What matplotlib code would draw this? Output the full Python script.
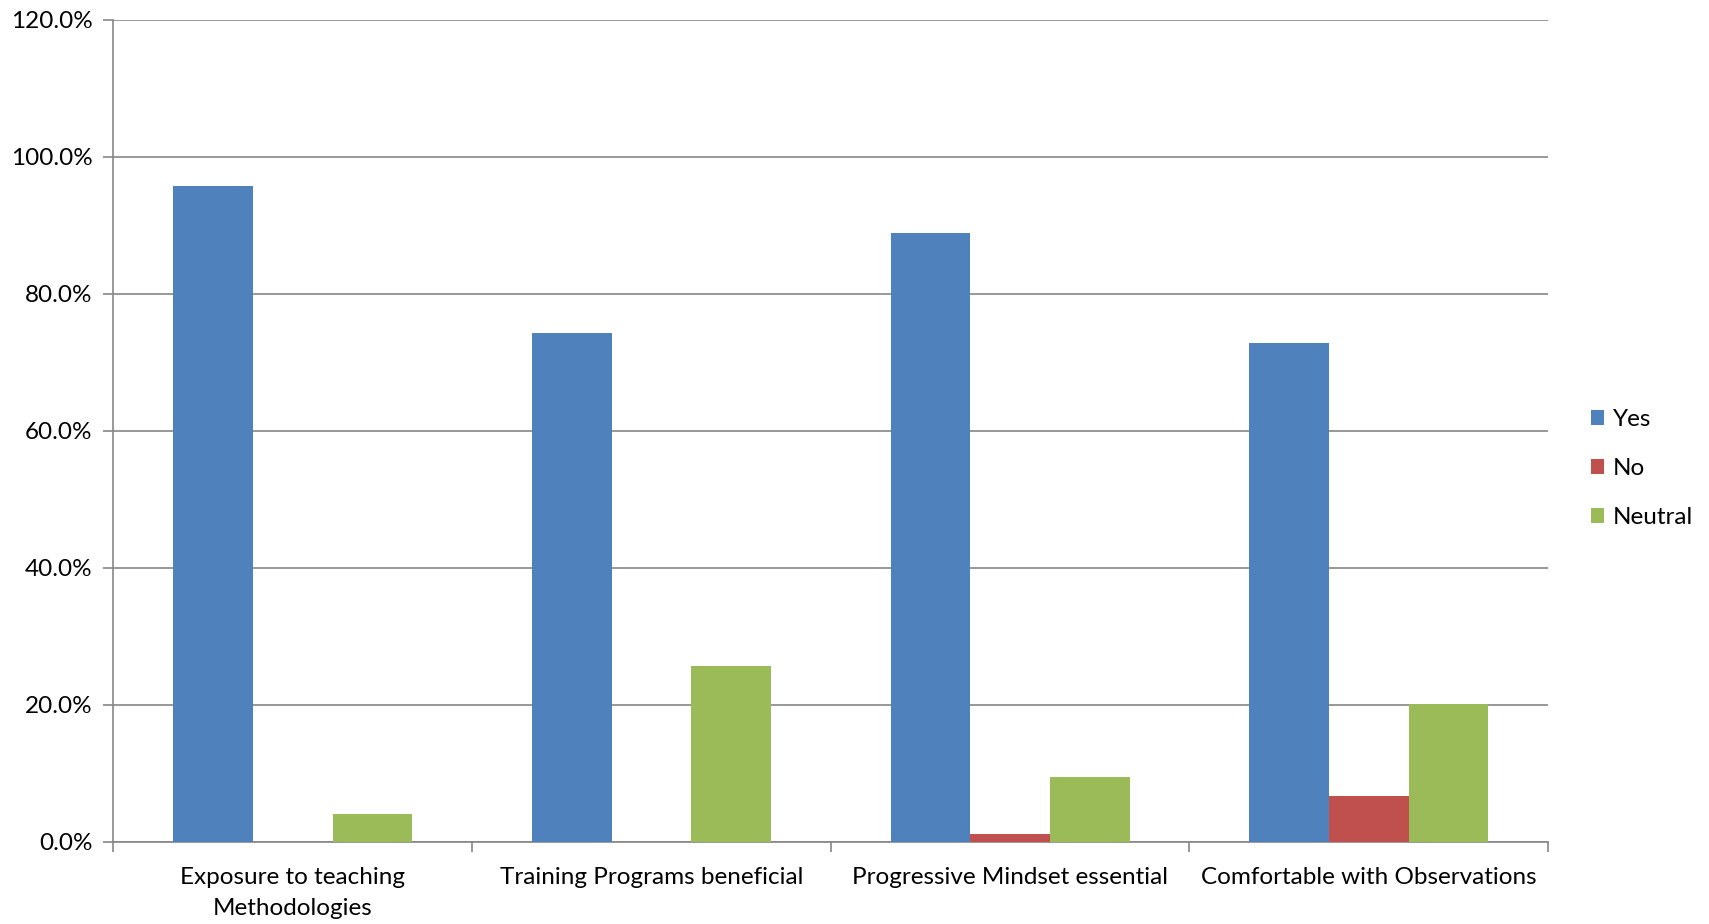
import matplotlib.pyplot as plt
import numpy as np
from matplotlib.ticker import FuncFormatter, FixedLocator

plt.rcParams['font.family'] = ['Lato', 'DejaVu Sans']

categories = ['Exposure to teaching\nMethodologies', 'Training Programs beneficial',
              'Progressive Mindset essential', 'Comfortable with Observations']
yes = [95.7, 74.2, 88.8, 72.8]
no = [0.0, 0.0, 1.1, 6.7]
neutral = [4.0, 25.6, 9.4, 20.1]

series = [('Yes', yes, '#4F81BD'), ('No', no, '#C0504D'), ('Neutral', neutral, '#9BBB59')]

fig = plt.figure(figsize=(17.09, 9.24), dpi=100)
ax = fig.add_axes([0.0664, 0.0891, 0.8394, 0.8897])

x = np.arange(len(categories))
width = 1 / 4.5
for i, (name, vals, color) in enumerate(series):
    ax.bar(x + (i - 1) * width, vals, width, color=color, label=name, zorder=3)

ax.set_xlim(-0.5, len(categories) - 0.5)
ax.set_ylim(0, 120)
ax.set_yticks(np.arange(0, 121, 20))
ax.yaxis.set_major_formatter(FuncFormatter(lambda v, p: f'{v:.1f}%'))
ax.grid(axis='y', color='#868686', linewidth=1.2, zorder=0)

ax.set_xticks(x)
ax.set_xticklabels(categories, linespacing=1.6)
ax.xaxis.set_minor_locator(FixedLocator(np.arange(-0.5, len(categories), 1)))
ax.tick_params(axis='x', which='major', length=0, pad=18, labelsize=17.5)
ax.tick_params(axis='x', which='minor', length=7, color='#868686', width=1.2)
ax.tick_params(axis='y', length=7, color='#868686', width=1.2, labelsize=17.5, pad=8)

for side in ['top', 'right']:
    ax.spines[side].set_visible(False)
for side in ['left', 'bottom']:
    ax.spines[side].set_color('#868686')
    ax.spines[side].set_linewidth(1.2)

ax.legend(loc='center left', bbox_to_anchor=(0.918, 0.493), bbox_transform=fig.transFigure,
          frameon=False, fontsize=17.5, handlelength=0.55, handleheight=0.55,
          handletextpad=0.35, labelspacing=1.15)

fig.savefig('out.png', dpi=100)
